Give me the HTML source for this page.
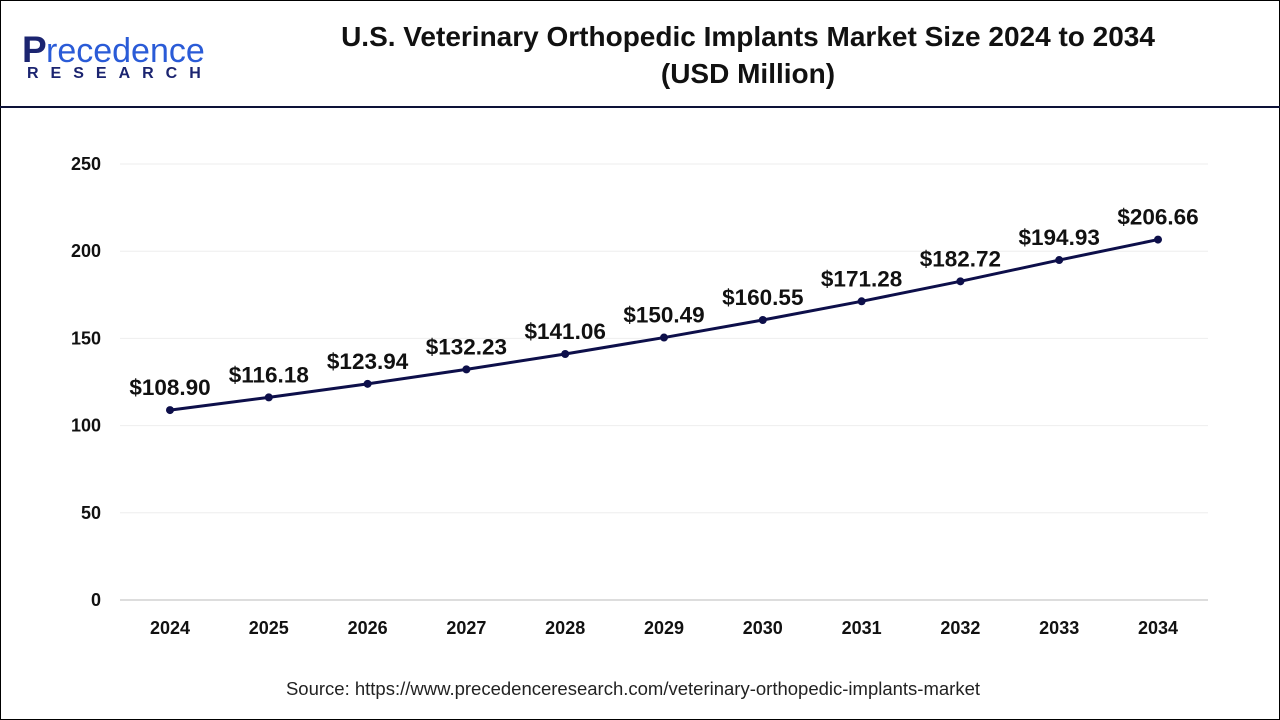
<!DOCTYPE html>
<html><head><meta charset="utf-8"><style>
body{margin:0;background:#fff;}
svg{display:block;font-family:"Liberation Sans",Arial,sans-serif;}
</style></head><body>
<svg id="chart" width="1280" height="720" viewBox="0 0 1280 720">
<rect x="0.5" y="0.5" width="1279" height="719" fill="#fff" stroke="#000" stroke-width="1"/>
<line x1="0" y1="107" x2="1280" y2="107" stroke="#0d1238" stroke-width="2"/>
<g>
<text x="22" y="62" font-size="37" font-weight="bold" fill="#1b2470">P</text>
<text x="46" y="62" font-size="34" fill="#2a5bd7">recedence</text>
<text x="27" y="78" font-size="16" font-weight="bold" fill="#1b2470" letter-spacing="12">RESEARCH</text>
</g>
<text x="748" y="46" font-size="28" font-weight="bold" text-anchor="middle" fill="#111">U.S. Veterinary Orthopedic Implants Market Size 2024 to 2034</text>
<text x="748" y="83" font-size="28" font-weight="bold" text-anchor="middle" fill="#111">(USD Million)</text>
<g id="grid"></g><g id="yticks"></g><g id="xticks"></g><g id="series"></g>
<text x="633" y="695" font-size="18.5" text-anchor="middle" fill="#222">Source: https://www.precedenceresearch.com/veterinary-orthopedic-implants-market</text>
</svg>
<script>
const years=["2024","2025","2026","2027","2028","2029","2030","2031","2032","2033","2034"];
const values=[108.90,116.18,123.94,132.23,141.06,150.49,160.55,171.28,182.72,194.93,206.66];
const yTicks=[0,50,100,150,200,250];
const NS="http://www.w3.org/2000/svg";
const x0=170,dx=98.8,yBase=600,yTop=164,yMax=250;
const X=i=>x0+i*dx, Y=v=>yBase-(v/yMax)*(yBase-yTop);
function mk(t,a,p){const e=document.createElementNS(NS,t);for(const k in a)e.setAttribute(k,a[k]);p.appendChild(e);return e;}
const grid=document.getElementById('grid'),yt=document.getElementById('yticks'),xt=document.getElementById('xticks'),s=document.getElementById('series');
yTicks.forEach(v=>{
 const l=mk('line',{x1:120,x2:1208,y1:Y(v),y2:Y(v),stroke:v===0?'#bbb':'#eee','stroke-width':1},grid);
 
 
 const t=mk('text',{x:101,y:Y(v)+6,'font-size':18,'font-weight':'bold','text-anchor':'end',fill:'#111'},yt);
 t.textContent=v;
 
 
});
years.forEach((yr,i)=>{
 const t=mk('text',{x:X(i),y:634,'font-size':18,'font-weight':'bold','text-anchor':'middle',fill:'#111'},xt);
 t.textContent=yr;
 
 
});
const pl=mk('polyline',{points:values.map((v,i)=>X(i)+','+Y(v)).join(' '),fill:'none',stroke:'#0d0f4a','stroke-width':3},s);


values.forEach((v,i)=>{
 const c=mk('circle',{cx:X(i),cy:Y(v),r:4,fill:'#0d0f4a'},s);
 
 
 const t=mk('text',{x:X(i),y:Y(v)-15,'font-size':22.5,'font-weight':'bold','text-anchor':'middle',fill:'#111'},s);
 t.textContent='$'+v.toFixed(2);
 
 
});
</script>
</body></html>
